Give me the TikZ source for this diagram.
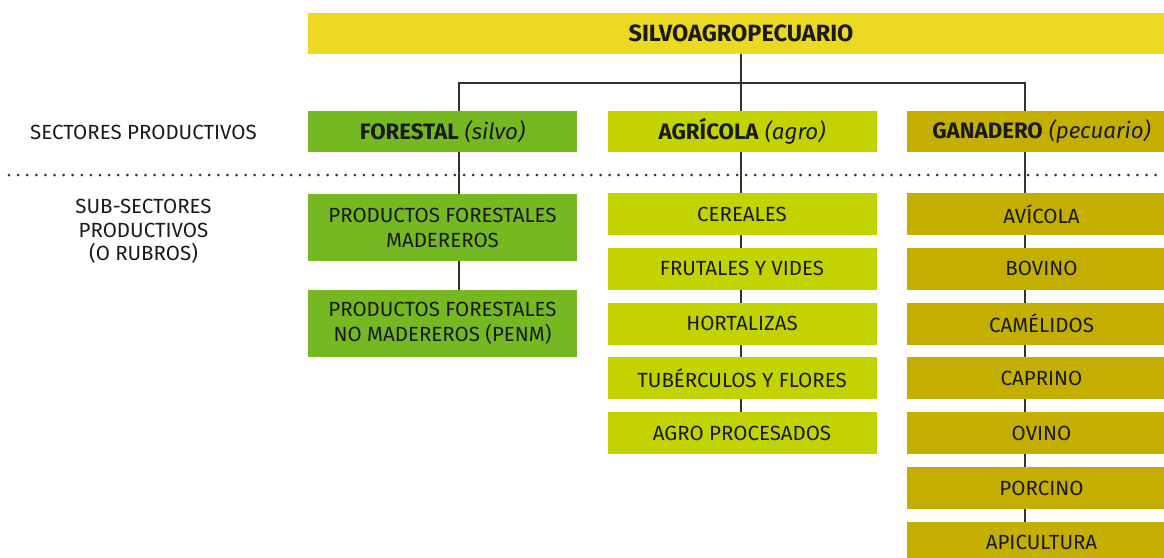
\documentclass[tikz,border=0pt]{standalone}
\usepackage{fontspec}
\setmainfont{Fira Sans}
\usetikzlibrary{backgrounds}
\definecolor{topc}{HTML}{EAD823}
\definecolor{forc}{HTML}{76B821}
\definecolor{agrc}{HTML}{C2D300}
\definecolor{ganc}{HTML}{C4AF00}
\definecolor{linec}{HTML}{333333}
\definecolor{txtc}{HTML}{1A1A1A}
\begin{document}
\begin{tikzpicture}[x=1pt,y=-1pt,
  box/.style={rectangle, inner sep=0pt, minimum width=269pt, minimum height=42pt,
    align=center, text=txtc, font=\fontsize{20.5}{25}\selectfont},
  topbox/.style={box, fill=topc, minimum width=866pt, minimum height=41pt, font=\fontsize{23.5}{26}\selectfont\bfseries},
  secbox/.style={box, minimum height=41pt, font=\fontsize{22.3}{26}\selectfont},
  forbox/.style={box, fill=forc},
  agrbox/.style={box, fill=agrc},
  ganbox/.style={box, fill=ganc},
  lab/.style={inner sep=0pt, align=center, text=txtc, font=\fontsize{20.5}{23.5}\selectfont},
  conn/.style={draw=linec, line width=1.4pt},
  dotline/.style={draw=linec, line width=3pt, line cap=round, dash pattern=on 0pt off 9.1pt}
]
\useasboundingbox (0,0) rectangle (1164,557);

% top
\node[topbox] (top) at (741,33.5) {SILVOAGROPECUARIO};

% sectors
\node[forbox, secbox] (fsec) at (442.5,131.5) {\textbf{FORESTAL} \textit{(silvo)}};
\node[agrbox, secbox] (asec) at (742,131.5) {\textbf{AGRÍCOLA} \textit{(agro)}};
\node[ganbox, secbox] (gsec) at (1041.5,131.5) {\textbf{GANADERO} \textit{(pecuario)}};

% forestal subsectors
\node[forbox, minimum height=67pt] (f1) at (442.5,227.5) {PRODUCTOS FORESTALES\\MADEREROS};
\node[forbox, minimum height=67pt] (f2) at (442.5,323.5) {PRODUCTOS FORESTALES\\NO MADEREROS (PENM)};

% agricola subsectors
\node[agrbox] (a1) at (742,214) {CEREALES};
\node[agrbox] (a2) at (742,268.8) {FRUTALES Y VIDES};
\node[agrbox] (a3) at (742,323.6) {HORTALIZAS};
\node[agrbox] (a4) at (742,378.4) {TUBÉRCULOS Y FLORES};
\node[agrbox] (a5) at (742,433.2) {AGRO PROCESADOS};

% ganadero subsectors
\node[ganbox] (g1) at (1041.5,214) {AVÍCOLA};
\node[ganbox] (g2) at (1041.5,268.8) {BOVINO};
\node[ganbox] (g3) at (1041.5,323.6) {CAMÉLIDOS};
\node[ganbox] (g4) at (1041.5,378.4) {CAPRINO};
\node[ganbox] (g5) at (1041.5,433.2) {OVINO};
\node[ganbox] (g6) at (1041.5,488) {PORCINO};
\node[ganbox] (g7) at (1041.5,542.8) {APICULTURA};

% left labels
\node[lab] (lsec) at (143.5,132) {SECTORES PRODUCTIVOS};
\node[lab] (lsub) at (143.5,231.5) {SUB-SECTORES\\PRODUCTIVOS\\(O RUBROS)};

% connector coordinates
\coordinate (fx) at (459,0);
\coordinate (ax) at (741,0);
\coordinate (gx) at (1025,0);
\coordinate (bar) at (741,83);
\coordinate (dl) at (9,175);
\coordinate (dr) at (1164,175);

\begin{scope}[on background layer]
  \draw[conn] (top.south -| ax) -- (ax |- asec.north);
  \draw[conn] (fx |- fsec.north) |- (bar) -| (gx |- gsec.north);
  \draw[conn] (fx |- fsec.south) -- (fx |- f2.north);
  \draw[conn] (ax |- asec.south) -- (ax |- a5.north);
  \draw[conn] (gx |- gsec.south) -- (gx |- g7.north);
  \draw[dotline] (dl) -- (dr);
\end{scope}
\end{tikzpicture}
\end{document}
